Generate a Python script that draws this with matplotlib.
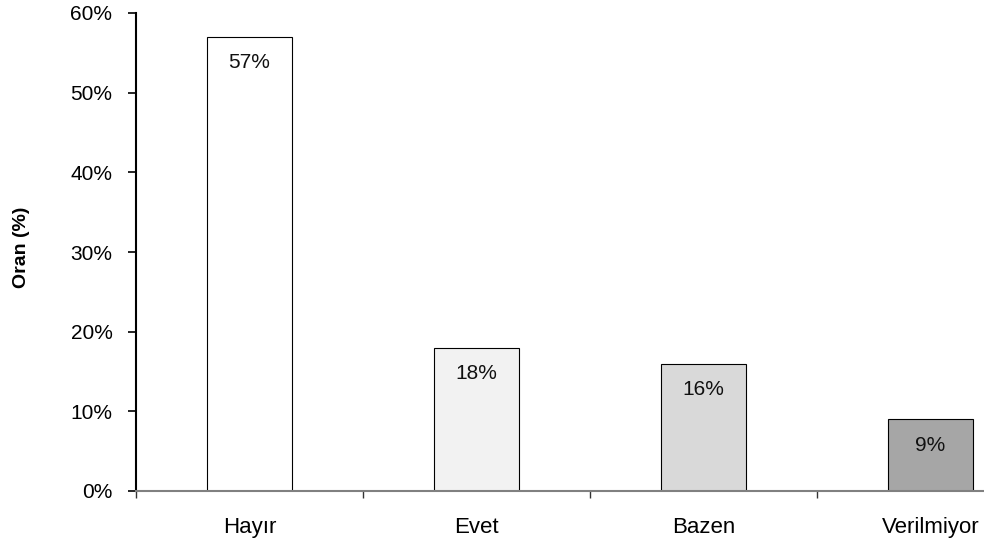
import matplotlib
matplotlib.use("Agg")
import matplotlib.pyplot as plt
from matplotlib.ticker import FuncFormatter, FixedLocator

plt.rcParams['font.family'] = ['Liberation Sans', 'DejaVu Sans']

categories = ["Hayır", "Evet", "Bazen", "Verilmiyor"]
values = [57, 18, 16, 9]
bar_colors = ["#ffffff", "#f2f2f2", "#d9d9d9", "#a6a6a6"]
y_ticks = [0, 10, 20, 30, 40, 50, 60]

W, H = 984, 545
fig = plt.figure(figsize=(W / 100, H / 100), dpi=100)
# plot area: y axis at x=136, zero line at y=491, top (60%) at y=13, 227 px per category
left, right = 136, 136 + 4 * 227
bottom, top = 491, 13
ax = fig.add_axes([left / W, 1 - bottom / H, (right - left) / W, (bottom - top) / H])

x = range(len(categories))
ax.bar(x, values, width=0.375, color=bar_colors, edgecolor="black", linewidth=0.8, zorder=2)

for xi, v in zip(x, values):
    ax.annotate(f"{v}%", (xi, v), xytext=(0, -26), textcoords="offset pixels",
                ha="center", va="center", fontsize=15, color="#111111")

ax.set_xlim(-0.5, len(categories) - 0.5)
ax.set_ylim(0, 60)
ax.set_yticks(y_ticks)
ax.yaxis.set_major_formatter(FuncFormatter(lambda v, p: f"{v:.0f}%"))
ax.tick_params(axis="y", labelsize=15, length=6, width=1.2, pad=11, direction="out")

ax.set_xticks(list(x))
ax.set_xticklabels(categories, fontsize=16)
ax.xaxis.set_minor_locator(FixedLocator([i - 0.5 for i in range(len(categories) + 1)]))
ax.tick_params(axis="x", which="major", length=0, pad=19)
ax.tick_params(axis="x", which="minor", length=5, width=1, color="#333333")

for s in ("top", "right"):
    ax.spines[s].set_visible(False)
ax.spines["left"].set_linewidth(1.5)
ax.spines["left"].set_color("black")
ax.spines["bottom"].set_linewidth(1.5)
ax.spines["bottom"].set_color("#808080")

fig.text(21 / W, 1 - 247 / H, "Oran (%)", rotation=90, ha="center", va="center",
         fontsize=14, fontweight="bold")

fig.savefig("out.png", dpi=100)
